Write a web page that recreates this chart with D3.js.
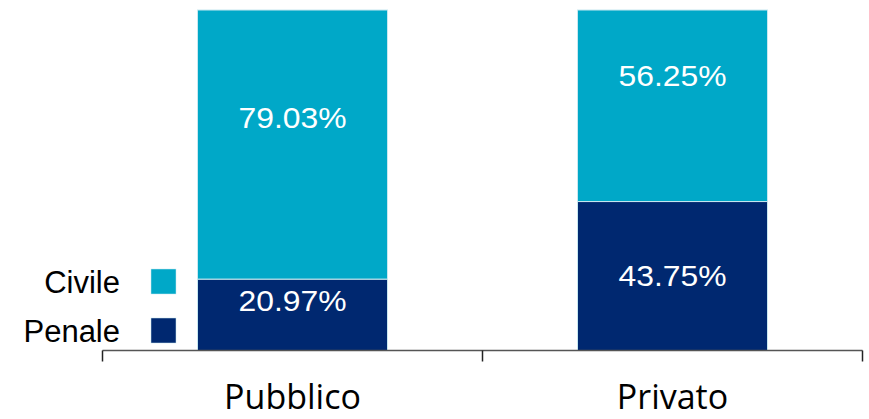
<!DOCTYPE html>
<html><head><meta charset="utf-8">
<script src="https://cdn.jsdelivr.net/npm/d3@7"></script>
<style>body{margin:0;background:#fff}svg{display:block;font-family:"Liberation Sans",Arial,sans-serif}</style>
</head><body><svg id="c" width="869" height="419"></svg>
<script>
const categories = ["Pubblico", "Privato"];
const seriesNames = ["Penale", "Civile"];
const penale = [20.97, 43.75];
const civile = [79.03, 56.25];
const colors = {Penale: "#002870", Civile: "#00A8C8"};

const svg = d3.select("#c");
const x = d3.scaleBand().domain(categories).range([102.5, 862.5]).paddingInner(0.5).paddingOuter(0.25);
const y = d3.scaleLinear().domain([0, 100]).range([350.5, 10]);

const data = categories.map((c, i) => ({cat: c, Penale: penale[i], Civile: civile[i]}));
const stack = d3.stack().keys(seriesNames)(data);

// label baseline offset from segment top (layout only)
const labelOffset = {Penale: {Pubblico: 32, Privato: 84}, Civile: {Pubblico: 118, Privato: 76}};

const g = svg.append("g");
stack.forEach(s => {
  g.selectAll(null).data(s).join("rect")
    .attr("x", d => x(d.data.cat))
    .attr("width", x.bandwidth())
    .attr("y", d => y(d[1]))
    .attr("height", d => y(d[0]) - y(d[1]))
    .attr("fill", colors[s.key])
    .attr("stroke", "#c8e8f0").attr("stroke-width", 1);
  g.selectAll(null).data(s).join("text")
    .attr("x", d => x(d.data.cat) + x.bandwidth() / 2)
    .attr("y", d => y(d[1]) + labelOffset[s.key][d.data.cat])
    .attr("text-anchor", "middle")
    .attr("fill", "#fff").attr("font-size", 30)
    .attr("textLength", 108).attr("lengthAdjust", "spacingAndGlyphs")
    .text(d => (d[1] - d[0]).toFixed(2) + "%");
});

const ax = svg.append("g").attr("transform", "translate(0,350.5)");
ax.append("line").attr("x1", 102.5).attr("x2", 862.5).attr("stroke", "#555").attr("stroke-width", 1.5);
const bounds = [102.5, 482.5, 862.5];
ax.selectAll(".tk").data(bounds).join("line").attr("x1", d => d).attr("x2", d => d)
  .attr("y1", 0).attr("y2", 11).attr("stroke", "#222").attr("stroke-width", 1.5);
ax.selectAll(".lbl").data(categories).join("text")
  .attr("x", d => x(d) + x.bandwidth() / 2).attr("y", 58)
  .attr("text-anchor", "middle").attr("font-size", 34).attr("fill", "#000")
  .style("font-family", "'Open Sans', sans-serif").text(d => d);

const leg = svg.append("g");
const legItems = ["Civile", "Penale"];
legItems.forEach((k, i) => {
  const yy = 269 + i * 49;
  leg.append("rect").attr("x", 151).attr("y", yy).attr("width", 25).attr("height", 25)
    .attr("fill", colors[k]).attr("stroke", "#c8e8f0").attr("stroke-width", 0.5);
  leg.append("text").attr("x", 120).attr("y", yy + 24).attr("text-anchor", "end")
    .attr("font-size", 31).attr("fill", "#000").text(k);
});
</script></body></html>
